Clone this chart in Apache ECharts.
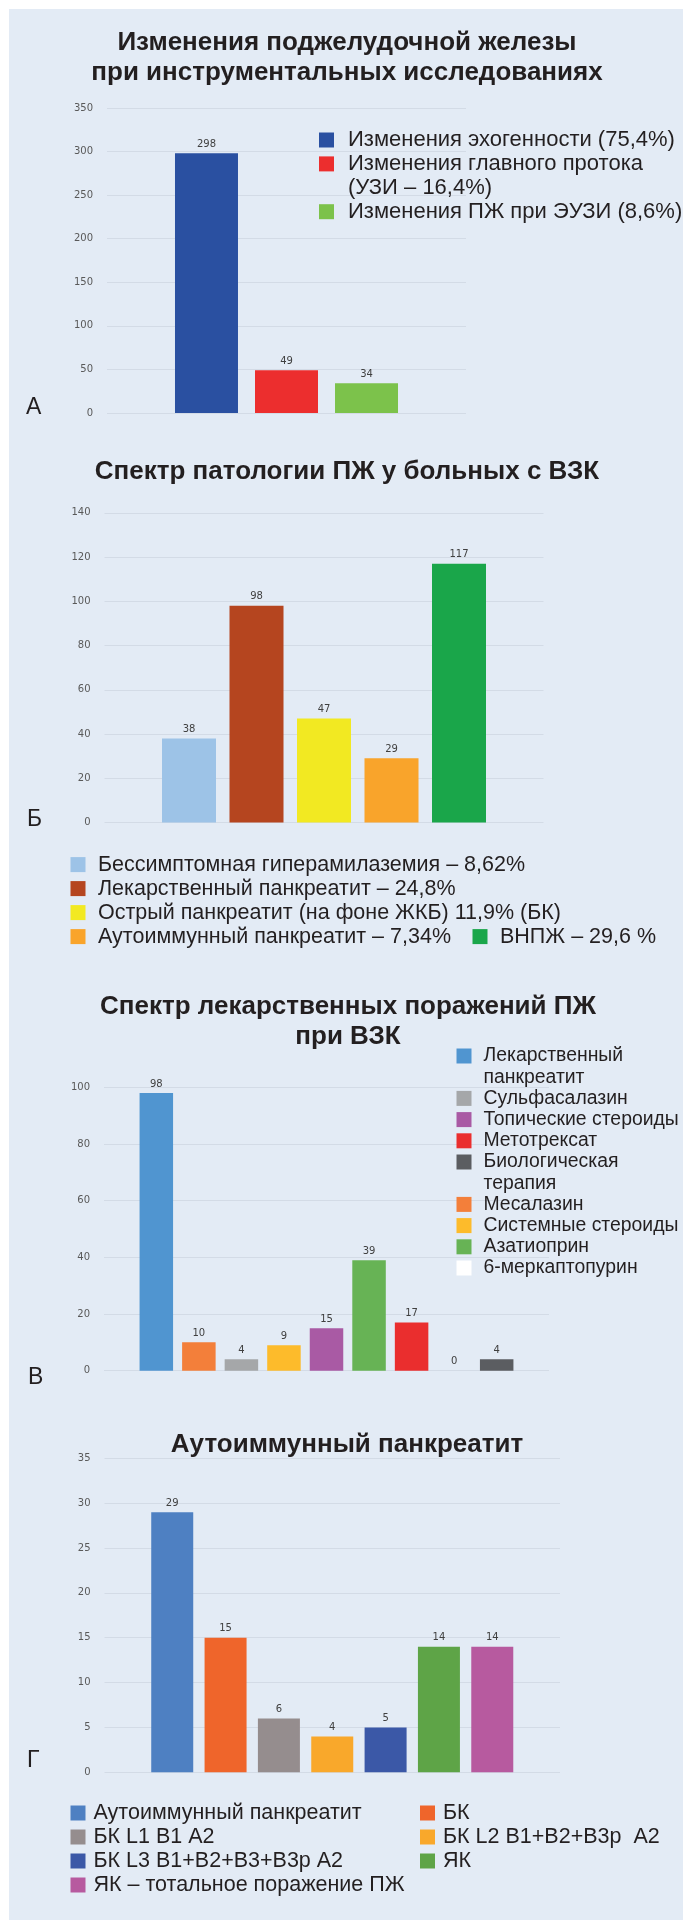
<!DOCTYPE html>
<html>
<head>
    <title>Поджелудочная железа при ВЗК</title>
    <meta charset="UTF-8">
    <script src="https://cdn.jsdelivr.net/npm/echarts@6/dist/echarts.min.js"></script>
    <style>
        body { margin: 0; background: #fff; }
        #wrap { position: relative; width: 683px; height: 1921px; }
        #bg { position: absolute; left: 9px; top: 9px; right: 0; bottom: 1px; background: #e3ebf5; }
        #main { position: absolute; left: 0; top: 0; width: 683px; height: 1921px; }
    </style>
</head>
<body>
<div id="wrap">
    <div id="bg"></div>
    <div id="main"></div>
</div>
<script type="text/javascript">
    // А - changes found by instrumental studies
    var namesA = ['Изменения эхогенности (75,4%)', 'Изменения главного протока\n(УЗИ – 16,4%)', 'Изменения ПЖ при ЭУЗИ (8,6%)'];
    var valuesA = [298, 49, 34];
    var colorsA = ['#2a50a1', '#ec2e2e', '#7cc24b'];
    var maxA = 350, stepA = 50;

    // Б - spectrum of pancreatic pathology
    var namesB = ['Бессимптомная гиперамилаземия – 8,62%', 'Лекарственный панкреатит – 24,8%',
        'Острый панкреатит (на фоне ЖКБ) 11,9% (БК)', 'Аутоиммунный панкреатит – 7,34%', 'ВНПЖ – 29,6 %'];
    var valuesB = [38, 98, 47, 29, 117];
    var colorsB = ['#9dc3e7', '#b5451f', '#f2e922', '#f9a42b', '#1aa64a'];
    var maxB = 140, stepB = 20;

    // В - drug induced lesions (bar order)
    var namesV = ['Лекарственный\nпанкреатит', 'Месалазин', 'Сульфасалазин', 'Системные стероиды',
        'Топические стероиды', 'Азатиоприн', 'Метотрексат', '6-меркаптопурин', 'Биологическая\nтерапия'];
    var valuesV = [98, 10, 4, 9, 15, 39, 17, 0, 4];
    var colorsV = ['#5095d0', '#f37f3a', '#a5a7a9', '#fdbb2b', '#a95aa4', '#67b355', '#ea2e2e', '#ffffff', '#5b5d61'];
    var legendOrderV = ['Лекарственный\nпанкреатит', 'Сульфасалазин', 'Топические стероиды', 'Метотрексат',
        'Биологическая\nтерапия', 'Месалазин', 'Системные стероиды', 'Азатиоприн', '6-меркаптопурин'];
    var maxV = 100, stepV = 20;

    // Г - autoimmune pancreatitis
    var namesG = ['Аутоиммунный панкреатит', 'БК', 'БК L1 B1 A2', 'БК L2 B1+B2+B3p  A2',
        'БК L3 B1+B2+B3+B3p A2', 'ЯК', 'ЯК – тотальное поражение ПЖ'];
    var valuesG = [29, 15, 6, 4, 5, 14, 14];
    var colorsG = ['#4e80c2', '#ef652b', '#958d8e', '#f9a82b', '#3b58a7', '#5ea447', '#b75a9f'];
    var maxG = 35, stepG = 5;

    var TXT = '#231f20';
    var GRIDLINE = '#d3dbe6';

    function barSeries(names, values, colors, idx, width, gap) {
        return names.map(function (n, i) {
            return {
                type: 'bar', name: n, xAxisIndex: idx, yAxisIndex: idx,
                data: [values[i]], barWidth: width, barGap: gap,
                itemStyle: { color: colors[i] },
                label: { show: true, position: 'top', distance: 4, color: '#404040', fontSize: 10, fontFamily: 'DejaVu Sans' }
            };
        });
    }

    // legend text is centred on the icon, so a wrapped name gets an empty
    // leading line to put its first line level with the icon
    function legendItem(name, x, cy, fontSize, lh, padLeft) {
        var two = name.indexOf('\n') >= 0;
        return {
            data: [name], left: x, top: two ? cy - 1.5 * lh : cy - lh / 2,
            padding: 0, itemWidth: 15, itemHeight: 15, icon: 'rect', selectedMode: false,
            formatter: function (n) { return n.indexOf('\n') >= 0 ? '\n' + n : n; },
            textStyle: {
                fontSize: fontSize, lineHeight: lh, color: TXT, fontFamily: 'Liberation Sans',
                padding: [0, 0, 0, padLeft]
            }
        };
    }

    function text(t, x, y, font, lh, align) {
        return {
            type: 'text', x: x, y: y, silent: true,
            style: { text: t, font: font, fill: TXT, align: align || 'center', verticalAlign: 'middle', lineHeight: lh }
        };
    }

    var grids = [
        { left: 107, top: 108, width: 359, height: 305 },
        { left: 104.5, top: 512.9, width: 439, height: 309.6 },
        { left: 104, top: 1087.3, width: 445, height: 283.4 },
        { left: 104.5, top: 1458.3, width: 455.5, height: 314 }
    ];
    var axisMax = [[maxA, stepA], [maxB, stepB], [maxV, stepV], [maxG, stepG]];

    var xAxes = grids.map(function (g, i) {
        return {
            type: 'category', gridIndex: i, data: [''],
            axisLine: { show: false }, axisTick: { show: false }, axisLabel: { show: false }
        };
    });
    var yAxes = grids.map(function (g, i) {
        return {
            type: 'value', gridIndex: i, min: 0, max: axisMax[i][0], interval: axisMax[i][1],
            axisLine: { show: false }, axisTick: { show: false },
            axisLabel: { margin: 14, color: '#595959', fontSize: 10, fontFamily: 'DejaVu Sans' },
            splitLine: { lineStyle: { color: GRIDLINE, width: 1 } }
        };
    });

    var series = [].concat(
        barSeries(namesA, valuesA, colorsA, 0, 63, '27%'),
        barSeries(namesB, valuesB, colorsB, 1, 54, '25%'),
        barSeries(namesV, valuesV, colorsV, 2, 33.5, '27%'),
        barSeries(namesG, valuesG, colorsG, 3, 42, '27%')
    );

    var legends = [];
    // А legend: one column, line by line
    var lineA = 0;
    namesA.forEach(function (n) {
        legends.push(legendItem(n, 319, 140 + lineA * 23.9, 22, 23.9, 9));
        lineA += n.split('\n').length;
    });
    // Б legend: three rows, then two items on the last row
    var slotsB = [[0, 70.5], [1, 70.5], [2, 70.5], [3, 70.5], [3, 472.5]];
    namesB.forEach(function (n, i) {
        legends.push(legendItem(n, slotsB[i][1], 864.6 + slotsB[i][0] * 24, 21.5, 24, 7.5));
    });
    // В legend: one column at the right
    var lineV = 0;
    legendOrderV.forEach(function (n) {
        legends.push(legendItem(n, 456.5, 1056 + lineV * 21.2, 19.4, 21.2, 7));
        lineV += n.split('\n').length;
    });
    // Г legend: two columns
    namesG.forEach(function (n, i) {
        legends.push(legendItem(n, i % 2 ? 420 : 70.5, 1813 + Math.floor(i / 2) * 24, 21.5, 24, 3));
    });

    var titleFont = 'bold 26px "Liberation Sans"';
    var letterFont = '23px "Liberation Sans"';

    var chart = echarts.init(document.getElementById('main'));
    chart.setOption({
        animation: false,
        grid: grids,
        xAxis: xAxes,
        yAxis: yAxes,
        legend: legends,
        series: series,
        graphic: [
            text('Изменения поджелудочной железы\nпри инструментальных исследованиях', 347, 58, titleFont, 30.6),
            text('Спектр патологии ПЖ у больных с ВЗК', 347, 471.8, titleFont, 30),
            text('Спектр лекарственных поражений ПЖ\nпри ВЗК', 348, 1022, titleFont, 30),
            text('Аутоиммунный панкреатит', 347, 1445, titleFont, 30),
            text('А', 26, 408, letterFont, 24, 'left'),
            text('Б', 27, 820, letterFont, 24, 'left'),
            text('В', 28, 1378, letterFont, 24, 'left'),
            text('Г', 27, 1761, letterFont, 24, 'left')
        ]
    });
</script>
</body>
</html>
